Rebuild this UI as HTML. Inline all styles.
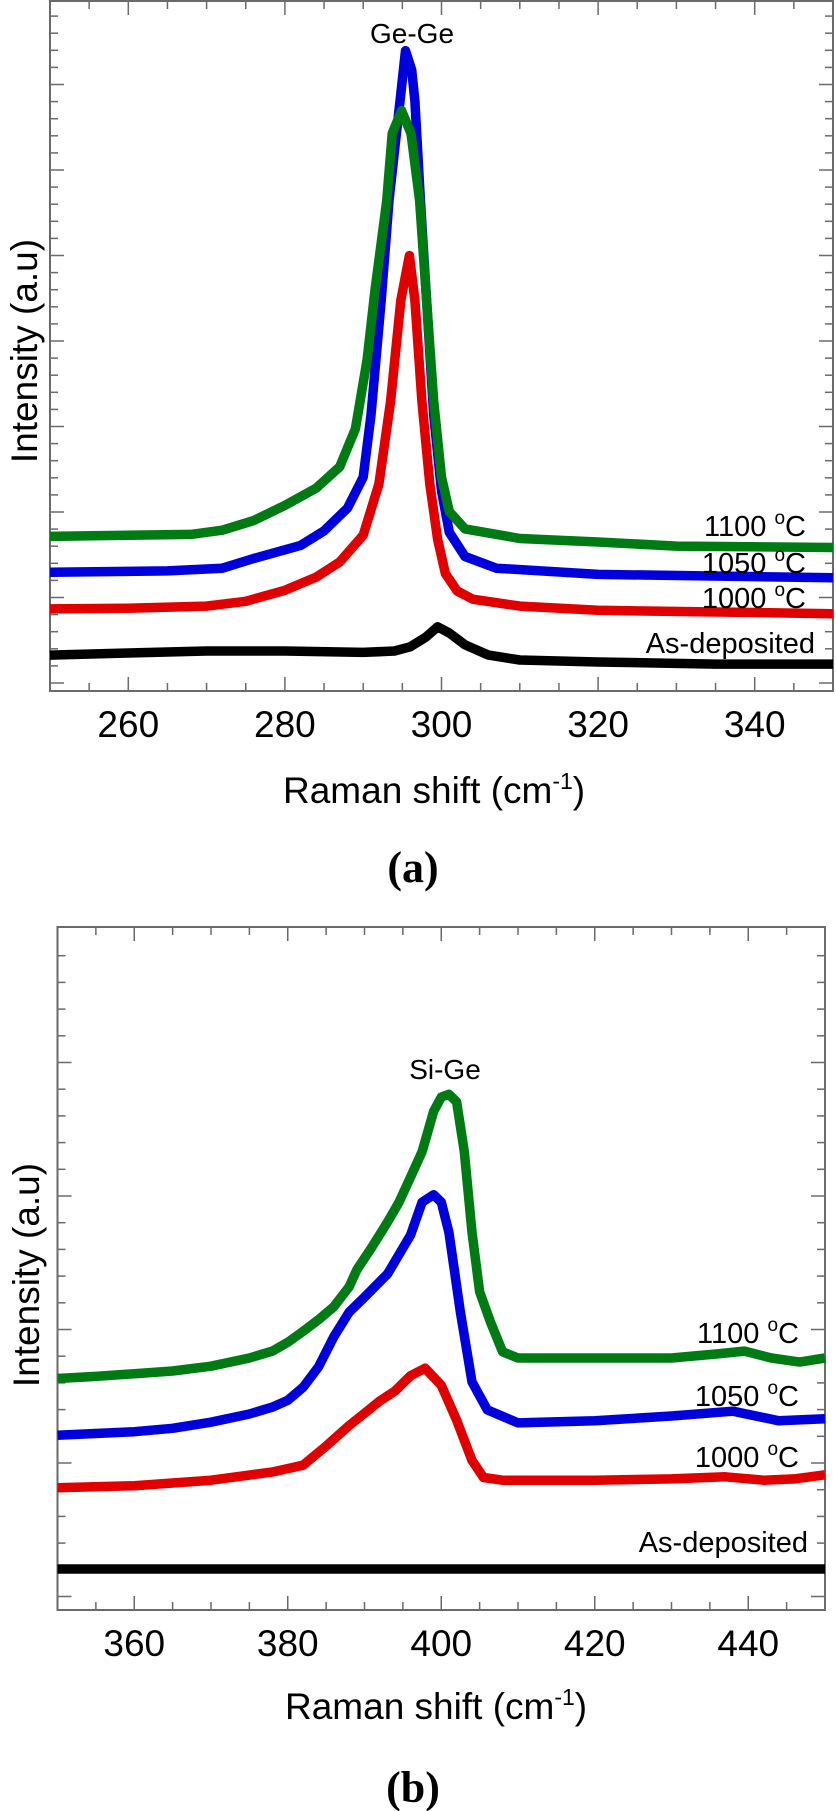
<!DOCTYPE html>
<html><head><meta charset="utf-8"><style>
html,body{margin:0;padding:0;background:#fff;}
svg{display:block;font-family:"Liberation Sans",Arial,sans-serif;}
</style></head><body>
<svg id="fig" width="836" height="1811" viewBox="0 0 836 1811" xmlns="http://www.w3.org/2000/svg"></svg>
<script>
// ---- Panel (a) data: Ge-Ge region ----
const aXTicks = [260, 280, 300, 320, 340];
const aAsDepX = [250,260,270,280,290,294,296,298,299.5,301,303,306,310,320,335,350];
const aAsDepY = [5.2,5.5,5.8,5.8,5.6,5.8,6.4,7.8,9.3,8.4,6.7,5.2,4.5,4.2,3.9,3.9];
const a1000X = [250,260,270,275,280,284,287,290,292,293.5,294.8,295.9,296.6,297.5,298.5,299.5,300.5,302,304,310,320,350];
const a1000Y = [11.9,12.0,12.3,13.0,14.6,16.5,18.7,22.6,30.0,42.0,56.6,63.1,56.6,42.0,30.0,22.0,17.0,14.5,13.3,12.3,11.7,11.2];
const a1050X = [250,265,272,276,282,285,288,290,291,292.3,293.3,294.7,295.4,296.2,296.6,297.3,298.1,299,300,301,303,307,320,350];
const a1050Y = [17.2,17.4,17.8,19.2,21.1,23.2,26.5,31.0,40.0,56.6,71.1,85.5,92.8,90.0,85.5,71.1,56.6,40.0,29.0,23.0,19.5,17.8,16.9,16.4];
const a1100X = [250,268,272,276,280,284,287,289,290.5,291.5,293,293.7,294.9,296.1,297.2,298.1,299,300,301,303,310,320,330,350];
const a1100Y = [22.4,22.7,23.3,24.7,26.9,29.4,32.5,38.0,48.0,58.0,71.0,80.8,84.1,80.8,71.1,56.6,42.0,31.0,26.0,23.5,22.1,21.6,21.0,20.8];

// ---- Panel (b) data: Si-Ge region ----
const bXTicks = [360, 380, 400, 420, 440];
const bAsDepX = [350,370,390,410,430,450];
const bAsDepY = [6.0,6.0,6.0,6.0,6.0,6.0];
const b1000X = [350,360,370,378,382,385,388,390,392,394,396,397.9,400,402,404,405.5,408,412,420,430,437,442,446,450];
const b1000Y = [17.9,18.2,19.0,20.2,21.2,24.0,27.0,28.8,30.6,32.1,34.3,35.4,32.9,27.8,21.9,19.4,19.0,19.0,19.0,19.2,19.5,19.0,19.2,19.8];
const b1050X = [350,360,365,370,375,378,380,382,384,386,388,390,393,396,397.5,399,400,401,402.5,404,406,410,420,430,438,444,450];
const b1050Y = [25.6,26.1,26.6,27.5,28.7,29.7,30.7,32.6,35.6,40.0,43.6,45.8,49.2,54.9,59.7,60.8,59.7,55.3,43.6,33.4,29.3,27.4,27.7,28.4,29.1,27.7,28.0];
const b1100X = [350,355,360,365,370,375,378,380,382,384,386,388,389,391,393,394.5,396,397.5,399,400,401,402,403,404,405,406.4,408,410,420,430,436,439.5,443,446.7,450];
const b1100Y = [33.9,34.2,34.6,35.0,35.7,36.9,37.9,39.2,40.8,42.5,44.4,47.3,49.8,53.2,56.8,59.7,63.4,67.1,73.0,75.1,75.5,74.4,67.1,55.3,46.6,42.2,37.8,36.9,36.9,36.9,37.5,37.9,36.9,36.3,36.9];

const NS = 'http://www.w3.org/2000/svg';
const svg = document.getElementById('fig');
function mk(tag, attrs, parent){
  const el = document.createElementNS(NS, tag);
  for (const k in attrs) el.setAttribute(k, attrs[k]);
  (parent||svg).appendChild(el);
  return el;
}

function panel(cfg){
  const g = mk('g', {});
  
  
  const xs = v => cfg.left + (v - cfg.xmin) / (cfg.xmax - cfg.xmin) * (cfg.right - cfg.left);
  const ys = v => cfg.bottom - v / 100 * (cfg.bottom - cfg.top);
  const tg = mk('g', {stroke:'#6a6a6a','stroke-width':1.5}, g);
  
  
  for (let v = cfg.xmin + 5; v < cfg.xmax; v += 5){
    const x = xs(v), major = (v % 20 === 0);
    const L = major ? 14 : 8;
    mk('line', {x1:x, x2:x, y1:cfg.bottom, y2:cfg.bottom - L}, tg);
    mk('line', {x1:x, x2:x, y1:cfg.top, y2:cfg.top + L}, tg);
  }
  for (let k = -6; k < 60; k++){
    const y = cfg.yMajorRef - k * cfg.yMinor;
    if (y <= cfg.top + 2 || y >= cfg.bottom - 2) continue;
    const major = (((k % 5) + 5) % 5 === 0);
    const L = major ? 14 : 8;
    mk('line', {x1:cfg.left, x2:cfg.left + L, y1:y, y2:y}, tg);
    mk('line', {x1:cfg.right, x2:cfg.right - L, y1:y, y2:y}, tg);
  }
  const fr = mk('rect', {x:cfg.left, y:cfg.top, width:cfg.right-cfg.left, height:cfg.bottom-cfg.top, fill:'none', stroke:'#6a6a6a','stroke-width':2}, g);
  
  
  cfg.ticks.forEach(v => {
    const t = mk('text', {x:xs(v), y:cfg.bottom + 46, 'text-anchor':'middle','font-size':37, fill:'#000'}, g);
    t.textContent = String(v);
    
    
  });
  cfg.series.forEach(s => {
    const pts = s.x.map((v, i) => xs(v).toFixed(1) + ',' + ys(s.y[i]).toFixed(1)).join(' ');
    const pl = mk('polyline', {points:pts, fill:'none', stroke:s.color, 'stroke-width':9.5, 'stroke-linejoin':'round', 'stroke-linecap':'butt'}, g);
    
    
  });
  return g;
}

panel({name:'panel-a-ge-ge', left:50, right:833, top:1, bottom:691, xmin:250, xmax:350,
  yMajorRef:683, yMinor:17.1, ticks:aXTicks,
  series:[
    {name:'series-as-deposited-a', x:aAsDepX, y:aAsDepY, color:'#000000'},
    {name:'series-1000c-a', x:a1000X, y:a1000Y, color:'#e00000'},
    {name:'series-1050c-a', x:a1050X, y:a1050Y, color:'#0000dd'},
    {name:'series-1100c-a', x:a1100X, y:a1100Y, color:'#007a12'}
  ]});
panel({name:'panel-b-si-ge', left:57.5, right:825, top:927, bottom:1610, xmin:350, xmax:450,
  yMajorRef:1463, yMinor:26.7, ticks:bXTicks,
  series:[
    {name:'series-as-deposited-b', x:bAsDepX, y:bAsDepY, color:'#000000'},
    {name:'series-1000c-b', x:b1000X, y:b1000Y, color:'#e00000'},
    {name:'series-1050c-b', x:b1050X, y:b1050Y, color:'#0000dd'},
    {name:'series-1100c-b', x:b1100X, y:b1100Y, color:'#007a12'}
  ]});
</script>
<svg width="836" height="1811" viewBox="0 0 836 1811" style="position:absolute;left:0;top:0;font-family:'Liberation Sans',Arial,sans-serif">
  <text x="412" y="43" text-anchor="middle" font-size="28">Ge-Ge</text>
  <text x="806" y="536" text-anchor="end" font-size="29">1100 <tspan font-size="19" dy="-12">o</tspan><tspan dy="12">C</tspan></text>
  <text x="806" y="573" text-anchor="end" font-size="29">1050 <tspan font-size="19" dy="-12">o</tspan><tspan dy="12">C</tspan></text>
  <text x="806" y="608" text-anchor="end" font-size="29">1000 <tspan font-size="19" dy="-12">o</tspan><tspan dy="12">C</tspan></text>
  <text x="815" y="653" text-anchor="end" font-size="29">As-deposited</text>
  <text transform="translate(37,351) rotate(-90)" text-anchor="middle" font-size="37">Intensity (a.u)</text>
  <text x="283" y="803" font-size="37">Raman shift (cm<tspan font-size="23" dy="-14">-1</tspan><tspan dy="14">)</tspan></text>
  <text x="413" y="882" text-anchor="middle" font-size="44" font-weight="bold" style="font-family:'Liberation Serif',serif">(a)</text>

  <text x="445" y="1079" text-anchor="middle" font-size="28">Si-Ge</text>
  <text x="799" y="1343" text-anchor="end" font-size="29">1100 <tspan font-size="19" dy="-12">o</tspan><tspan dy="12">C</tspan></text>
  <text x="799" y="1406" text-anchor="end" font-size="29">1050 <tspan font-size="19" dy="-12">o</tspan><tspan dy="12">C</tspan></text>
  <text x="799" y="1467" text-anchor="end" font-size="29">1000 <tspan font-size="19" dy="-12">o</tspan><tspan dy="12">C</tspan></text>
  <text x="808" y="1552" text-anchor="end" font-size="29">As-deposited</text>
  <text transform="translate(39,1275) rotate(-90)" text-anchor="middle" font-size="37">Intensity (a.u)</text>
  <text x="285" y="1719" font-size="37">Raman shift (cm<tspan font-size="23" dy="-14">-1</tspan><tspan dy="14">)</tspan></text>
  <text x="413" y="1802" text-anchor="middle" font-size="44" font-weight="bold" style="font-family:'Liberation Serif',serif">(b)</text>
</svg>
</body></html>
